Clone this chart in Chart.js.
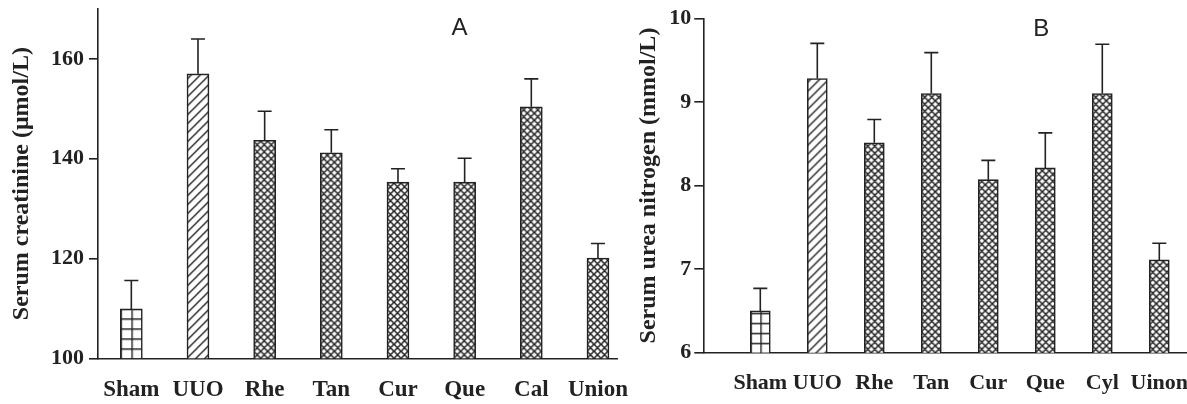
<!DOCTYPE html>
<html>
<head>
<meta charset="utf-8">
<script src="https://cdn.jsdelivr.net/npm/chart.js@4/dist/chart.umd.min.js"></script>
<style>
  html, body { margin: 0; padding: 0; background: #fff; overflow: hidden; }
  #wrap { position: relative; width: 1187px; height: 404px; overflow: hidden; }
  canvas { position: absolute; top: 0; }
  #chartA { left: 0; }
  #chartB { left: 620px; }
</style>
</head>
<body>
<div id="wrap">
  <canvas id="chartA" width="640" height="404"></canvas>
  <canvas id="chartB" width="600" height="404"></canvas>
</div>
<script>
// panel A - serum creatinine
const groupsA = ['Sham', 'UUO', 'Rhe', 'Tan', 'Cur', 'Que', 'Cal', 'Union'];
const creatinine = [109.9, 157.0, 143.7, 141.2, 135.3, 135.3, 150.4, 120.1];
const creatinineSD = [5.7, 7.0, 5.8, 4.6, 2.7, 4.8, 5.6, 2.9];
const ticksA = [100, 120, 140, 160];

// panel B - serum urea nitrogen
const groupsB = ['Sham', 'UUO', 'Rhe', 'Tan', 'Cur', 'Que', 'Cyl', 'Uinon'];
const ureaN = [6.50, 9.28, 8.51, 9.10, 8.07, 8.21, 9.10, 7.11];
const ureaNSD = [0.27, 0.42, 0.28, 0.49, 0.23, 0.42, 0.59, 0.20];
const ticksB = [6, 7, 8, 9, 10];

// fill style of each bar
const fills = ['grid', 'hatch', 'cross', 'cross', 'cross', 'cross', 'cross', 'cross'];

const ink = '#222';
const serif = '"Liberation Serif", "Times New Roman", serif';

function make_pattern(kind, barW) {
  let tw = 7, th = 7;
  if (kind === 'grid') { tw = barW / 2; th = 10; }
  if (kind === 'hatch') { tw = 9; th = 9; }
  const c = document.createElement('canvas');
  c.width = tw; c.height = th;
  const g = c.getContext('2d');
  g.fillStyle = '#fff';
  g.fillRect(0, 0, tw, th);
  g.strokeStyle = ink;
  g.lineWidth = kind === 'cross' ? 1.5 : 1.4;
  g.beginPath();
  if (kind === 'grid') {
    g.moveTo(0, 0.7); g.lineTo(tw, 0.7);
    g.moveTo(0.7, 0); g.lineTo(0.7, th);
  } else if (kind === 'hatch') {
    for (const k of [0, 9, 18]) { g.moveTo(k + 1, -1); g.lineTo(k - 10, 10); }
  } else {
    for (const k of [-7, 0, 7]) { g.moveTo(k - 1, -1); g.lineTo(k + 8, 8); }
    for (const k of [0, 7, 14]) { g.moveTo(k + 1, -1); g.lineTo(k - 8, 8); }
  }
  g.stroke();
  return g.createPattern(c, 'repeat');
}

const errorBars = {
  id: 'errorBars',
  afterDatasetsDraw(chart, args, opts) {
    const ctx = chart.ctx, sx = chart.scales.x, sy = chart.scales.y;
    const pts = chart.data.datasets[0].data;
    ctx.save();
    ctx.strokeStyle = ink;
    ctx.lineWidth = 1.6;
    pts.forEach((p, i) => {
      const x = sx.getPixelForValue(p.x);
      const y0 = sy.getPixelForValue(p.y);
      const y1 = sy.getPixelForValue(p.y + opts.sd[i]);
      ctx.beginPath();
      ctx.moveTo(x, y0); ctx.lineTo(x, y1);
      ctx.moveTo(x - 7, y1); ctx.lineTo(x + 7, y1);
      ctx.stroke();
    });
    ctx.restore();
  }
};

const panelLetter = {
  id: 'panelLetter',
  afterDraw(chart, args, opts) {
    const ctx = chart.ctx;
    ctx.save();
    ctx.fillStyle = ink;
    ctx.font = '24px "Liberation Sans", Arial, sans-serif';
    ctx.textAlign = 'center';
    ctx.textBaseline = 'alphabetic';
    ctx.fillText(opts.text, opts.x, opts.y);
    ctx.restore();
  }
};

function create_bar_chart(id, o) {
  const ctx = document.getElementById(id).getContext('2d');
  const pts = o.values.map((v, i) => ({ x: i + o.first, y: v }));
  return new Chart(ctx, {
    type: 'bar',
    data: {
      datasets: [{
        data: pts,
        barThickness: o.barW,
        borderWidth: 1.6,
        borderColor: ink,
        borderSkipped: false,
        backgroundColor: function(c) {
          const sx = c.chart.scales.x, sy = c.chart.scales.y;
          if (!sx || !sy || c.dataIndex === undefined) return '#fff';
          const pat = make_pattern(fills[c.dataIndex], o.barW);
          const left = sx.getPixelForValue(pts[c.dataIndex].x) - o.barW / 2;
          pat.setTransform(new DOMMatrix([1, 0, 0, 1, left, sy.getPixelForValue(o.yMin)]));
          return pat;
        }
      }]
    },
    options: {
      responsive: false,
      animation: false,
      devicePixelRatio: 1,
      layout: { padding: o.padding },
      scales: {
        x: {
          type: 'linear',
          offset: false,
          min: 0,
          max: o.xMax,
          afterBuildTicks: s => { s.ticks = o.groups.map((g, i) => ({ value: i + o.first })); },
          afterFit: s => { s.height = o.xAxisH; s.paddingLeft = 0; s.paddingRight = 0; },
          grid: { display: false, drawTicks: false, offset: false },
          border: { display: true, color: ink, width: 1.6 },
          ticks: {
            autoSkip: false,
            maxRotation: 0,
            padding: o.xLabelPad,
            color: ink,
            font: { family: serif, size: o.xFont, weight: 'bold' },
            callback: (v, i) => o.groups[i]
          }
        },
        y: {
          min: o.yMin,
          max: o.yMax,
          afterBuildTicks: s => { s.ticks = o.yTicks.map(v => ({ value: v })); },
          afterFit: s => { s.width = o.yAxisW; s.paddingTop = 0; s.paddingBottom = 0; },
          grid: { display: true, drawOnChartArea: false, drawTicks: true, tickLength: 9, color: ink, lineWidth: 1.6 },
          border: { display: true, color: ink, width: 1.6 },
          ticks: {
            padding: o.yLabelPad,
            color: ink,
            font: { family: serif, size: 22, weight: 'bold' }
          },
          title: {
            display: true,
            text: o.title,
            color: ink,
            padding: { top: o.titlePad, bottom: 0 },
            font: { family: serif, size: 24, weight: 'bold' }
          }
        }
      },
      plugins: {
        legend: { display: false },
        tooltip: { enabled: false },
        errorBars: { sd: o.sd },
        panelLetter: o.letter
      }
    },
    plugins: [errorBars, panelLetter]
  });
}

create_bar_chart('chartA', {
  groups: groupsA, values: creatinine, sd: creatinineSD, yTicks: ticksA,
  title: 'Serum creatinine (\u03bcmol/L)',
  first: 0.5, xMax: 7.79, yMin: 100, yMax: 170, barW: 22, xFont: 23,
  padding: { left: 0, top: 9, right: 22.7, bottom: 0 },
  xAxisH: 45.7, yAxisW: 98, xLabelPad: 18, yLabelPad: 5, titlePad: 7,
  letter: { text: 'A', x: 459.6, y: 35 }
});

create_bar_chart('chartB', {
  groups: groupsB, values: ureaN, sd: ureaNSD, yTicks: ticksB,
  title: 'Serum urea nitrogen (mmol/L)',
  first: 1, xMax: 8.5, yMin: 6, yMax: 10, barW: 20, xFont: 22,
  padding: { left: 0, top: 18.3, right: 32.2, bottom: 0 },
  xAxisH: 51.3, yAxisW: 83.3, xLabelPad: 17, yLabelPad: 3, titlePad: 14,
  letter: { text: 'B', x: 421.3, y: 36 }
});
</script>
</body>
</html>
